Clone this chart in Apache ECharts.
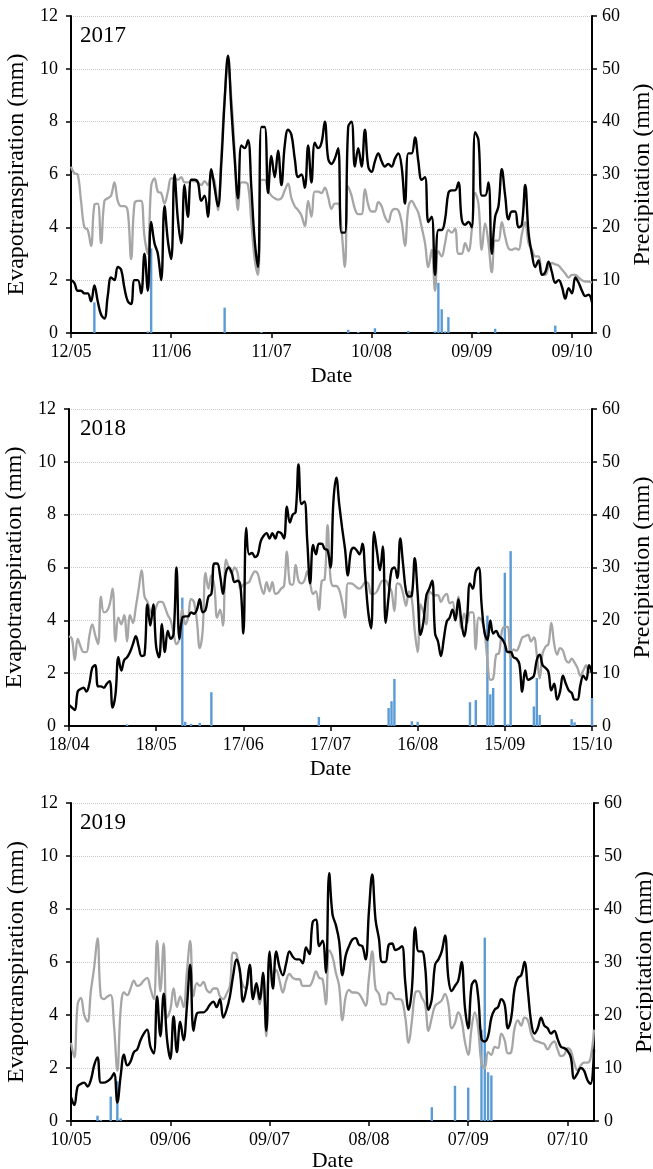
<!DOCTYPE html>
<html>
<head>
<meta charset="utf-8">
<script src="https://cdn.jsdelivr.net/npm/echarts@6/dist/echarts.min.js"></script>
<style>
  html, body { margin: 0; padding: 0; background: #fff; }
  #chart { width: 653px; height: 1169px; }
</style>
</head>
<body>
<div id="chart"></div>
<script>
// daily evapotranspiration (mm), black and grey lines, and precipitation (mm) bars
const et17 = [2.0, 1.9, 1.6, 1.6, 1.5, 1.5, 1.2, 1.8, 1.2, 0.7,
  0.55, 1.4, 2.1, 2.0, 2.5, 2.4, 1.7, 1.2, 1.1, 2.0,
  2.0, 1.5, 3.0, 1.6, 4.2, 3.4, 3.0, 2.0, 4.8, 3.5,
  2.8, 6.0, 4.3, 3.4, 5.6, 4.4, 5.8, 5.8, 5.7, 5.0,
  5.2, 4.4, 6.2, 5.5, 4.8, 6.4, 8.8, 10.5, 8.5, 6.6,
  5.1, 7.1, 7.0, 7.3, 5.5, 3.5, 2.5, 7.8, 7.8, 5.3,
  6.7, 5.9, 6.9, 5.6, 7.1, 7.7, 7.5, 6.6, 5.9, 6.0,
  5.5, 7.1, 5.7, 7.2, 7.0, 7.2, 8.0, 6.6, 6.4, 6.6,
  7.0, 3.8, 3.8, 7.8, 8.0, 6.3, 7.0, 6.3, 7.7, 6.3,
  6.1, 6.5, 6.8, 6.5, 6.3, 6.4, 6.3, 6.6, 6.8, 6.3,
  4.9, 6.8, 6.8, 7.4, 6.5, 5.8, 5.9, 4.2, 4.4, 2.2,
  3.9, 3.9, 4.3, 5.3, 5.4, 5.4, 5.7, 4.3, 4.1, 4.2,
  4.0, 7.6, 7.3, 5.2, 5.2, 5.7, 3.0, 4.4, 4.8, 6.2,
  5.2, 4.3, 4.6, 4.6, 4.0, 4.1, 5.6, 3.8, 3.0, 2.5,
  2.75, 2.2, 2.3, 2.7, 2.3, 1.9, 2.0, 1.75, 1.3, 1.7,
  1.5, 2.1, 1.9, 1.6, 1.4, 1.45, 1.15];
const gr17 = [6.3, 6.05, 6.0, 5.0, 4.0, 3.9, 3.3, 4.85, 4.9, 3.4,
  5.0, 5.1, 5.2, 5.7, 5.0, 4.8, 4.8, 4.6, 2.8, 4.9,
  5.0, 5.0, 3.65, 3.0, 5.55, 5.85, 5.35, 5.3, 4.9, 5.35,
  5.85, 5.85, 5.8, 5.9, 5.7, 5.7, 5.75, 5.75, 5.7, 5.6,
  5.75, 5.6, 5.9, 5.75, 4.65, 6.7, 8.9, 10.1, 8.9, 6.9,
  4.65, 5.7, 5.7, 5.6, 4.2, 2.8, 2.2, 5.8, 5.8, 5.4,
  5.2, 5.1, 5.05, 5.1, 5.4, 5.65, 5.1, 4.8, 4.65, 4.45,
  4.05, 5.0, 4.4, 5.35, 5.35, 5.3, 5.5, 5.15, 4.7, 4.9,
  4.9, 3.9, 2.5, 5.55, 5.2, 4.7, 4.5, 4.5, 5.45, 4.85,
  4.6, 4.6, 4.95, 4.8, 4.4, 4.2, 4.6, 4.7, 4.65, 4.2,
  3.3, 4.75, 5.0, 4.8, 4.55, 4.0, 3.4, 2.5, 3.15, 1.6,
  3.1, 2.9, 3.4, 3.9, 3.8, 3.95, 3.0, 3.0, 3.4, 3.1,
  3.9, 5.3, 4.9, 3.15, 4.15, 3.4, 2.3, 3.5, 3.5, 4.2,
  3.65, 3.2, 3.15, 3.2, 3.15, 3.75, 4.2, 3.4, 3.15, 2.9,
  2.9, 2.25, 2.2, 2.5, 2.65, 2.6, 2.55, 2.4, 2.25, 2.1,
  2.2, 2.2, 2.1, 2.0, 1.95, 1.95, 1.9];
const pr17 = [0, 0, 0, 0, 0, 0, 0, 5.8, 0, 0,
  0, 0, 0, 0, 0, 0, 0, 0, 0, 0,
  0, 0, 0, 0.3, 16, 0, 0, 0, 0, 0,
  0, 0, 0, 0, 0, 0, 0, 0, 0, 0,
  0, 0, 0, 0, 0, 0, 4.8, 0, 0, 0,
  0, 0, 0, 0, 0, 0, 0, 0.2, 0, 0,
  0, 0, 0, 0, 0, 0, 0, 0, 0, 0,
  0, 0, 0, 0, 0, 0, 0, 0, 0, 0,
  0, 0, 0, 0.6, 0, 0, 0.2, 0, 0, 0,
  0, 0.9, 0, 0, 0, 0, 0, 0, 0, 0,
  0, 0.4, 0, 0, 0, 0, 0, 0, 0, 0.3,
  9.5, 4.5, 0.3, 3.0, 0, 0, 0, 0, 0, 0,
  0, 0, 0.2, 0, 0, 0, 0, 0.8, 0, 0,
  0, 0, 0, 0, 0, 0, 0, 0, 0, 0,
  0, 0, 0, 0, 0, 1.4, 0, 0, 0, 0,
  0, 0, 0, 0, 0, 0, 0];

const et18 = [0.8, 0.7, 0.6, 1.3, 1.4, 1.45, 1.3, 1.6, 2.2, 2.3,
  1.5, 1.5, 1.45, 1.6, 1.7, 0.7, 1.2, 2.6, 2.1, 2.5,
  2.6, 2.8, 3.1, 3.4, 3.0, 2.65, 2.7, 4.6, 3.8, 4.6,
  3.0, 2.6, 3.85, 2.8, 3.6, 3.3, 3.5, 6.0, 3.3, 4.1,
  4.15, 4.15, 4.3, 4.25, 4.4, 4.8, 4.3, 4.4, 4.9, 5.0,
  6.15, 6.15, 5.7, 5.0, 5.8, 6.0, 5.8, 5.45, 5.5, 5.3,
  3.5, 7.5, 6.5, 6.55, 6.4, 6.5, 7.0, 7.2, 7.3, 7.1,
  7.3, 7.1, 7.35, 7.3, 7.1, 8.3, 7.7, 8.0, 8.1, 9.9,
  8.4, 8.5, 7.0, 5.4, 6.85, 6.5, 6.9, 6.9, 6.7, 6.65,
  6.0, 8.5, 9.4, 8.4, 7.5, 6.7, 5.7, 6.6, 6.75, 6.65,
  6.5, 6.9, 5.6, 4.3, 3.7, 7.35, 6.6, 5.9, 6.8, 3.9,
  4.9, 5.9, 6.0, 5.6, 7.1, 6.1, 5.1, 4.9, 4.95, 6.35,
  5.0, 3.45, 3.95, 4.95, 5.2, 5.5, 3.5, 3.2, 2.65, 3.3,
  3.95, 4.1, 4.4, 4.0, 4.8, 4.0, 3.4, 4.1, 5.4, 5.2,
  5.85, 6.0, 4.6, 3.55, 3.25, 4.0, 3.5, 3.6, 3.4, 3.3,
  3.1, 2.8, 2.8, 2.6, 2.55, 2.35, 1.3, 2.1, 1.75, 1.8,
  1.9, 2.5, 2.7, 2.3, 2.2, 2.05, 1.35, 1.6, 1.0, 1.3,
  1.9, 1.6, 1.35, 1.25, 1.0, 1.0, 1.55, 1.9, 1.75, 2.3, 2.0];
const gr18 = [3.4, 3.3, 2.5, 3.3, 3.0, 2.8, 2.8, 3.4, 3.85, 3.45,
  3.1, 4.9, 4.3, 4.35, 4.6, 5.2, 3.2, 4.1, 3.85, 4.2,
  3.2, 4.2, 3.9, 4.5, 5.2, 5.9, 4.9, 4.7, 4.35, 4.2,
  4.5, 4.7, 4.7, 4.5, 4.2, 4.0, 3.5, 3.1, 3.3, 4.4,
  3.85, 4.1, 4.8, 4.7, 4.0, 2.95, 3.6, 5.8, 5.2, 5.7,
  5.3, 4.1, 4.4, 3.8, 6.3, 6.0, 5.8, 6.0, 5.8, 5.2,
  5.35, 5.4, 5.45, 5.7, 5.85, 5.75, 5.3, 5.0, 5.45, 5.1,
  5.45, 5.0, 5.05, 5.2, 5.3, 6.6, 5.4, 5.35, 6.1, 5.5,
  5.4, 5.5, 5.85, 5.4, 5.0, 5.1, 4.4, 5.5, 5.55, 7.6,
  5.6, 5.3, 5.3, 5.15, 4.7, 4.1, 5.4, 5.4, 5.35, 5.25,
  5.2, 5.3, 5.45, 5.4, 5.0, 5.0, 5.1, 5.35, 5.5, 5.5,
  5.3, 5.1, 4.35, 5.4, 5.35, 5.0, 4.55, 5.1, 4.8, 3.6,
  2.8, 4.6, 4.3, 3.85, 5.1, 5.0, 4.95, 4.95, 4.7, 4.9,
  5.0, 4.65, 4.7, 4.1, 4.9, 3.7, 4.25, 3.9, 4.3, 4.3,
  2.9, 4.1, 4.0, 3.6, 2.5, 1.75, 1.8, 2.7, 2.75, 3.6,
  3.75, 3.75, 2.6, 2.9, 2.85, 3.05, 3.35, 3.4, 3.45, 3.2,
  3.35, 2.7, 1.8, 2.75, 3.0, 3.1, 3.9, 3.1, 2.7, 2.95,
  2.85, 2.5, 2.4, 2.55, 2.4, 2.2, 1.9, 2.1, 2.3, 2.05, 2.05];
const pr18 = [0, 0, 0, 0, 0, 0, 0, 0, 0, 0,
  0, 0, 0, 0, 0, 0, 0, 0, 0, 0,
  0.3, 0, 0, 0, 0, 0, 0, 0, 0, 0,
  0, 0, 0, 0, 0, 0, 0, 0, 0, 24.3,
  0.8, 0, 0.4, 0, 0, 0.6, 0, 0, 0, 6.4,
  0, 0, 0, 0, 0, 0, 0, 0, 0, 0,
  0, 0, 0, 0, 0, 0, 0, 0, 0, 0,
  0, 0, 0, 0, 0, 0, 0, 0, 0, 0,
  0, 0, 0, 0, 0, 0, 1.7, 0, 0, 0,
  0, 0, 0, 0, 0, 0, 0, 0, 0, 0,
  0, 0, 0, 0, 0, 0, 0, 0, 0, 0,
  3.4, 4.7, 8.9, 0, 0, 0, 0, 0, 0.9, 0,
  0.8, 0, 0, 0, 0, 0, 0, 0, 0, 0,
  0, 0, 0, 0, 0, 0, 0, 0, 4.5, 0,
  4.9, 0, 0, 0, 20.9, 6.0, 7.2, 0, 0, 0,
  29.0, 0.3, 33.1, 0, 0, 0, 0, 0, 0, 0,
  3.7, 9.1, 2.1, 0, 0, 0, 0, 0, 0, 0,
  0, 0, 0, 1.3, 0.7, 0, 0, 0, 0, 0, 5.3];

const et19 = [0.9, 0.6, 1.3, 1.4, 1.45, 1.3, 1.55, 2.1, 2.4, 1.45,
  1.45, 1.5, 1.6, 1.8, 0.7, 1.7, 2.5, 2.1, 2.25, 2.6,
  2.7, 3.05, 3.3, 3.45, 2.8, 2.55, 4.7, 3.2, 4.8, 3.1,
  2.35, 3.95, 2.6, 3.75, 3.05, 4.3, 5.9, 3.4, 4.05, 4.1,
  4.1, 4.2, 4.4, 4.5, 4.3, 4.6, 3.9, 4.2, 4.7, 5.5,
  6.1, 5.7, 4.5, 5.0, 5.9, 4.6, 5.2, 4.6, 5.6, 3.4,
  6.4, 5.0, 6.4, 5.8, 5.5, 5.95, 6.4, 6.2, 6.1, 6.1,
  5.95, 6.55, 6.3, 7.5, 7.6, 6.6, 6.8, 5.6, 9.35, 7.8,
  7.4, 6.8, 5.5, 6.25, 6.6, 6.85, 6.9, 6.65, 6.6, 6.1,
  7.9, 9.3, 7.6, 6.9, 6.0, 6.0, 6.65, 6.7, 6.45, 6.5,
  6.6, 5.2, 4.2, 5.0, 7.3, 6.4, 6.4, 5.8, 4.2, 4.6,
  5.9, 6.1, 6.4, 7.0, 5.4, 4.9, 5.1, 5.3, 6.0, 4.3,
  3.5, 5.1, 5.3, 4.7, 3.1, 3.0, 3.2, 3.9, 4.2, 4.3,
  4.6, 4.4, 3.5, 3.9, 5.0, 5.4, 5.5, 6.0, 4.95, 3.75,
  3.3, 3.5, 3.9, 3.6, 3.5, 3.3, 3.4, 3.1, 2.8, 2.75,
  2.65, 2.4, 1.6, 1.8, 2.0, 1.9, 1.55, 1.4, 2.7];
const gr19 = [2.95, 2.4, 4.4, 4.65, 4.0, 3.75, 4.9, 5.8, 6.9, 4.7,
  4.6, 4.7, 4.75, 3.6, 1.9, 4.2, 4.85, 4.75, 5.0, 5.3,
  5.1, 5.15, 5.3, 5.4, 5.0, 4.6, 6.8, 4.9, 6.7, 3.9,
  4.2, 5.0, 4.3, 4.7, 4.3, 5.6, 6.8, 4.7, 5.2, 5.1,
  5.25, 4.95, 4.85, 5.0, 5.0, 4.7, 4.6, 4.8, 5.1, 6.35,
  6.3, 5.6, 5.1, 5.0, 5.8, 4.7, 5.0, 4.4, 5.3, 3.2,
  6.0, 5.5, 5.7, 5.3, 4.85, 5.3, 5.55, 5.4, 5.35, 5.35,
  5.1, 5.1, 5.1, 5.3, 5.65, 5.4, 5.35, 4.4, 6.45, 6.2,
  5.6, 5.1, 3.8, 4.7, 4.95, 4.85, 4.85, 4.8, 4.6, 4.35,
  5.4, 6.4, 5.0, 4.8, 4.4, 4.4, 4.85, 4.8, 4.6, 4.6,
  4.55, 3.9, 2.95, 3.8, 4.85, 4.9, 4.65, 4.4, 3.4, 3.9,
  4.35, 4.45, 4.55, 4.8, 4.4, 3.5, 3.7, 4.1, 3.8, 3.0,
  2.5, 3.5, 4.1, 3.5, 2.2, 2.0, 2.6, 2.5, 2.8, 2.75,
  3.3, 3.05, 2.55, 2.6, 3.5, 3.8, 3.6, 3.9, 3.8, 3.3,
  3.05, 3.0, 2.95, 2.9, 2.7, 2.9, 3.0, 2.7, 2.45, 2.5,
  2.75, 2.65, 2.2, 1.9, 2.1, 2.2, 2.2, 2.4, 3.45];
const pr19 = [0, 0, 0, 0, 0, 0, 0, 0, 1.0, 0.2,
  0, 0, 4.6, 0, 7.5, 0.5, 0, 0, 0, 0,
  0, 0, 0, 0, 0, 0, 0, 0, 0, 0,
  0, 0, 0, 0, 0, 0, 0, 0, 0, 0,
  0, 0, 0, 0, 0, 0, 0, 0, 0, 0,
  0, 0, 0, 0, 0, 0, 0, 0, 0, 0,
  0, 0, 0, 0, 0, 0, 0, 0, 0, 0,
  0, 0, 0, 0, 0, 0, 0, 0, 0, 0,
  0, 0, 0, 0, 0, 0, 0, 0, 0, 0,
  0, 0, 0, 0, 0, 0, 0, 0, 0, 0,
  0, 0, 0, 0, 0, 0, 0, 0, 0, 2.6,
  0, 0, 0, 0, 0, 0, 6.65, 0, 0, 0,
  6.3, 0, 0, 0, 17.2, 34.6, 9.2, 8.6, 0, 0,
  0, 0, 0, 0, 0, 0, 0, 0, 0, 0,
  0, 0, 0, 0, 0, 0, 0, 0, 0, 0,
  0, 0, 0, 0, 0, 0, 0, 0, 0];

const years = ['2017', '2018', '2019'];
const startDates = ['2017-05-12', '2018-04-18', '2019-05-10'];

// dd/mm labels, one per day
function dayLabels(start, n) {
  const d0 = new Date(start + 'T00:00:00Z');
  const out = [];
  for (let i = 0; i < n; i++) {
    const d = new Date(d0.getTime() + i * 86400000);
    const dd = String(d.getUTCDate()).padStart(2, '0');
    const mm = String(d.getUTCMonth() + 1).padStart(2, '0');
    out.push(dd + '/' + mm);
  }
  return out;
}

const panels = [
  { et: et17, gr: gr17, pr: pr17 },
  { et: et18, gr: gr18, pr: pr18 },
  { et: et19, gr: gr19, pr: pr19 },
];
const grids = [
  { left: 71, right: 61, top: 16, height: 317, outerBoundsMode: 'none' },
  { left: 69, right: 61, top: 409, height: 317, outerBoundsMode: 'none' },
  { left: 71, right: 59, top: 803, height: 318, outerBoundsMode: 'none' },
];
const dateGap = [32, 32, 28];

const font = "'Liberation Serif', 'Times New Roman', serif";
const axisLine = { show: true, lineStyle: { color: '#000', width: 2 } };

const xAxis = [], yAxis = [], series = [], title = [];
panels.forEach((p, i) => {
  const cats = dayLabels(startDates[i], p.et.length);
  xAxis.push({
    type: 'category', gridIndex: i, data: cats, boundaryGap: false,
    name: 'Date', nameLocation: 'middle', nameGap: dateGap[i],
    nameTextStyle: { fontFamily: font, fontSize: 22, color: '#000' },
    axisLine: axisLine,
    axisTick: { show: true, interval: 29, length: 5, lineStyle: { color: '#000', width: 1.5 } },
    axisLabel: { interval: 29, margin: 10, fontFamily: font, fontSize: 18, color: '#000' },
    splitLine: { show: false },
  });
  yAxis.push({
    type: 'value', gridIndex: i, min: 0, max: 12, interval: 2, position: 'left',
    name: 'Evapotranspiration (mm)', nameLocation: 'middle', nameGap: 40,
    nameTextStyle: { fontFamily: font, fontSize: 24, color: '#000' },
    axisLine: axisLine,
    axisTick: { show: true, length: 5, lineStyle: { color: '#000', width: 1.5 } },
    axisLabel: { margin: 13, fontFamily: font, fontSize: 18, color: '#000' },
    splitLine: { show: true, lineStyle: { color: '#c8c8c8', type: 'dotted', width: 1 } },
  });
  yAxis.push({
    type: 'value', gridIndex: i, min: 0, max: 60, interval: 10, position: 'right',
    name: 'Precipitation (mm)', nameLocation: 'middle', nameGap: 35,
    nameTextStyle: { fontFamily: font, fontSize: 24, color: '#000' },
    axisLine: axisLine,
    axisTick: { show: true, length: 5, lineStyle: { color: '#000', width: 1.5 } },
    axisLabel: { margin: 10, fontFamily: font, fontSize: 18, color: '#000' },
    splitLine: { show: false },
  });
  series.push({
    type: 'bar', xAxisIndex: i, yAxisIndex: i * 2 + 1, data: p.pr,
    barWidth: 2.4, itemStyle: { color: '#5b9bd5' }, z: 1,
  });
  series.push({
    type: 'line', xAxisIndex: i, yAxisIndex: i * 2, data: p.gr,
    smooth: 0.4, showSymbol: false, lineStyle: { color: '#a6a6a6', width: 2.3 }, z: 2,
  });
  series.push({
    type: 'line', xAxisIndex: i, yAxisIndex: i * 2, data: p.et,
    smooth: 0.4, showSymbol: false, lineStyle: { color: '#000', width: 2.4 }, z: 3,
  });
  title.push({
    text: years[i], left: 75, top: grids[i].top + 3,
    textStyle: { fontFamily: font, fontSize: 23, fontWeight: 'normal', color: '#000' },
  });
});

const chart = echarts.init(document.getElementById('chart'));
chart.setOption({
  animation: false,
  backgroundColor: '#fff',
  title: title,
  grid: grids,
  xAxis: xAxis,
  yAxis: yAxis,
  series: series,
});
</script>
</body>
</html>
